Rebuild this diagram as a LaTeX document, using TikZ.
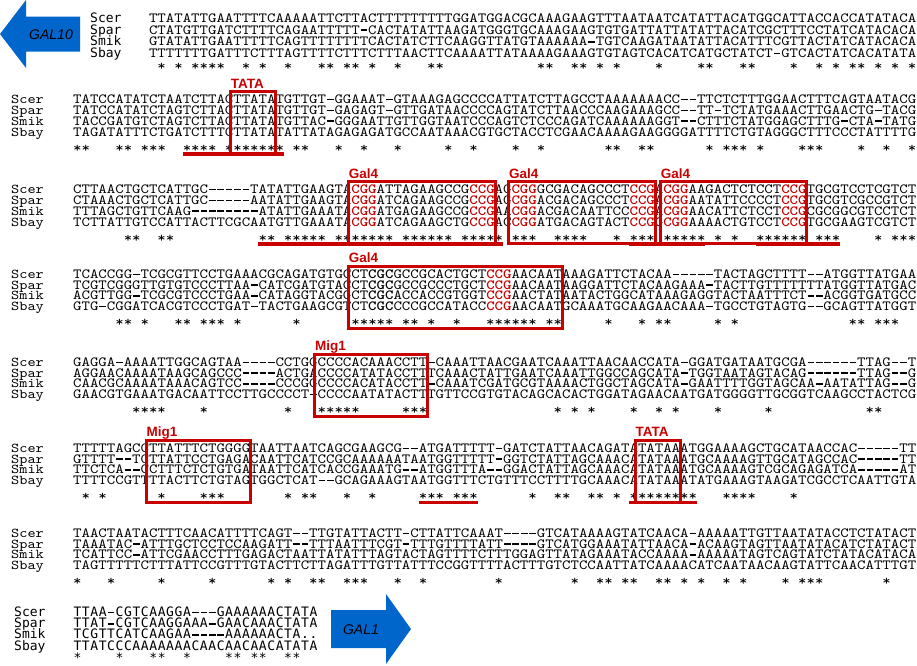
\documentclass[tikz,border=0pt]{standalone}
\usepackage{fontspec}
\newfontfamily\seqfont{lmmono10-regular.otf}[FakeStretch=1.15]
\newfontfamily\seqbold{lmmonolt10-bold.otf}[FakeStretch=1.15]
\newfontfamily\sansmono{DejaVu Sans Mono}
\newfontfamily\labfont{Liberation Sans}
\definecolor{gred}{RGB}{200,0,0}
\definecolor{arrowblue}{RGB}{0,102,204}

\ExplSyntaxOn
\dim_new:N \g_my_cw_dim
\dim_gset:Nn \g_my_cw_dim {8.43pt}
\str_new:N \l_my_a_str
\str_new:N \l_my_b_str
\str_new:N \l_my_c_str
\str_new:N \l_my_d_str
\cs_new_protected:Npn \my_box:n #1 { \hbox_to_wd:nn { \g_my_cw_dim } { \hss #1 \hss } }
\cs_new_protected:Npn \my_cell:n #1
  {
    \str_case:nnF {#1}
      {
        {a} { \my_box:n { \textcolor{gred}{\seqbold A} } }
        {c} { \my_box:n { \textcolor{gred}{\seqbold C} } }
        {g} { \my_box:n { \textcolor{gred}{\seqbold G} } }
        {t} { \my_box:n { \textcolor{gred}{\seqbold T} } }
        {K} { \my_box:n { \seqbold C } }
        {Q} { \my_box:n { \seqbold G } }
        {-} { \my_box:n { \rule[3.3pt]{6.6pt}{1.5pt} } }
      }
      { \my_box:n {#1} }
  }
\NewDocumentCommand \seqrow { m } { \str_map_inline:nn {#1} { \my_cell:n {##1} } }
\NewDocumentCommand \starrow { mmmm }
  {
    \str_set:Nx \l_my_a_str { \str_foldcase:n {#1} }
    \str_set:Nx \l_my_b_str { \str_foldcase:n {#2} }
    \str_set:Nx \l_my_c_str { \str_foldcase:n {#3} }
    \str_set:Nx \l_my_d_str { \str_foldcase:n {#4} }
    \int_step_inline:nn { \str_count:N \l_my_a_str }
      {
        \bool_if:nTF
          {
            \str_if_eq_p:ee { \str_item:Nn \l_my_a_str {##1} } { \str_item:Nn \l_my_b_str {##1} }
            && \str_if_eq_p:ee { \str_item:Nn \l_my_a_str {##1} } { \str_item:Nn \l_my_c_str {##1} }
            && \str_if_eq_p:ee { \str_item:Nn \l_my_a_str {##1} } { \str_item:Nn \l_my_d_str {##1} }
            && ! \str_if_eq_p:ee { \str_item:Nn \l_my_a_str {##1} } { - }
            && ! \str_if_eq_p:ee { \str_item:Nn \l_my_a_str {##1} } { . }
          }
          { \my_box:n {*} }
          { \my_box:n {} }
      }
  }
\ExplSyntaxOff

\newcommand\blkmid{\def\bnx{11}\def\bsx{73}\def\bdy{10.8}\def\bcap{4.3}\def\bstar{20.5}%
  \def\bnf{\seqfont\fontsize{13.5}{14}\selectfont}\def\bsf{\seqfont\fontsize{14}{14}\selectfont}}
\newcommand\blkone{\def\bnx{90}\def\bsx{148.87}\def\bdy{11.6}\def\bcap{4.3}\def\bstar{16.9}%
  \def\bnf{\sansmono\fontsize{13}{14}\selectfont}\def\bsf{\seqfont\fontsize{14}{14}\selectfont}}
\newcommand\blkeight{\def\bnx{14}\def\bsx{73}\def\bdy{11.1}\def\bcap{4.7}\def\bstar{17.4}%
  \def\bnf{\sansmono\fontsize{13}{14}\selectfont}\def\bsf{\sansmono\fontsize{13}{14}\selectfont}}

\newcommand\seqblock[6]{%
  \pgfmathsetmacro\ya{#2+\bcap}%
  \pgfmathsetmacro\yb{#2+\bdy+\bcap}%
  \pgfmathsetmacro\yc{#2+2*\bdy+\bcap}%
  \pgfmathsetmacro\yd{#2+3*\bdy+\bcap}%
  \pgfmathsetmacro\ye{#2+3*\bdy+\bstar}%
  \node[nm] (#1n1) at (\bnx,\ya) {Scer};
  \node[nm] (#1n2) at (\bnx,\yb) {Spar};
  \node[nm] (#1n3) at (\bnx,\yc) {Smik};
  \node[nm] (#1n4) at (\bnx,\yd) {Sbay};
  \node[sq] (#1s1) at (\bsx,\ya) {\seqrow{#3}};
  \node[sq] (#1s2) at (\bsx,\yb) {\seqrow{#4}};
  \node[sq] (#1s3) at (\bsx,\yc) {\seqrow{#5}};
  \node[sq] (#1s4) at (\bsx,\yd) {\seqrow{#6}};
  \node[sq] (#1st) at (\bsx,\ye) {\starrow{#3}{#4}{#5}{#6}};
}
\newcommand\gbox[5]{%
  \pgfmathsetmacro\bxl{73+(#2-1)*8.43-2.5}%
  \pgfmathsetmacro\bxr{73+#3*8.43+0.5}%
  \draw[boxst] (\bxl,#1-7.5) rectangle (\bxr,#1+54.5);
  \node[lab] (#5) at (\bxl,#1-11.2) {#4};
}
\newcommand\uline[3]{%
  \draw[ulst] ({73+(#2-1)*8.43},#1+54.5) -- ({73+#3*8.43},#1+54.5);
}

\tikzset{
  nm/.style={anchor=base west, inner sep=0pt, font=\bnf},
  sq/.style={anchor=base west, inner sep=0pt, font=\bsf},
  lab/.style={anchor=base west, inner sep=0pt, text=gred, font=\labfont\bfseries\fontsize{13.5}{14}\selectfont},
  boxst/.style={draw=gred, line width=3pt},
  ulst/.style={draw=gred, line width=3.5pt},
  galtext/.style={inner sep=0pt, font=\labfont\itshape\fontsize{14}{14}\selectfont, text=black},
}

\begin{document}
\begin{tikzpicture}[x=1pt,y=-1pt]
\useasboundingbox (0,0) rectangle (917,665);
\fill[white] (0,0) rectangle (917,665);

% GAL10 arrow
\fill[arrowblue] (0,34) -- (26,0) -- (26,16.5) -- (80,16.5) -- (80,51.5) -- (26,51.5) -- (26,68) -- cycle;
\node[galtext] (gal10) at (51,35) {GAL10};

% GAL1 arrow
\fill[arrowblue] (331,610) -- (386,610) -- (386,594) -- (411,629) -- (386,664) -- (386,648) -- (331,648) -- cycle;
\node[galtext] (gal1) at (361,630) {GAL1};

% block 1
\blkone
\seqblock{bA}{18.3}
{TTATATTGAATTTTCAAAAATTCTTACTTTTTTTTTGGATGGACGCAAAGAAGTTTAATAATCATATTACATGGCATTACCACCATATACA}
{CTATGTTGATCTTTTCAGAATTTTT-CACTATATTAAGATGGGTGCAAAGAAGTGTGATTATTATATTACATCGCTTTCCTATCATACACA}
{GTATATTGAATTTTTCAGTTTTTTTTCACTATCTTCAAGGTTATGTAAAAAA-TGTCAAGATAATATTACATTTCGTTACTATCATACACA}
{TTTTTTTGATTTCTTTAGTTTTCTTTCTTTAACTTCAAAATTATAAAAGAAAGTGTAGTCACATCATGCTATCT-GTCACTATCACATATA}

% block 2
\blkmid
\seqblock{bB}{99.3}
{TATCCATATCTAATCTTACTTATATGTTGT-GGAAAT-GTAAAGAGCCCCATTATCTTAGCCTAAAAAAACC--TTCTCTTTGGAACTTTCAGTAATACG}
{TATCCATATCTAGTCTTACTTATATGTTGT-GAGAGT-GTTGATAACCCCAGTATCTTAACCCAAGAAAGCC--TT-TCTATGAAACTTGAACTG-TACG}
{TACCGATGTCTAGTCTTACTTATATGTTAC-GGGAATTGTTGGTAATCCCAGTCTCCCAGATCAAAAAAGGT--CTTTCTATGGAGCTTTG-CTA-TATG}
{TAGATATTTCTGATCTTTCTTATATATTATAGAGAGATGCCAATAAACGTGCTACCTCGAACAAAAGAAGGGGATTTTCTGTAGGGCTTTCCCTATTTTG}
\uline{99.3}{14}{25}
\gbox{99.3}{20}{24}{TATA}{lTATAa}

% block 3
\seqblock{bC}{189.3}
{CTTAACTGCTCATTGC-----TATATTGAAGTAcggATTAGAAGCCGccgAGcggGCGACAGCCCTccgAcggAAGACTCTCCTccgTGCGTCCTCGTCT}
{CTAAACTGCTCATTGC-----AATATTGAAGTAcggATCAGAAGCCGccgAGcggACGACAGCCCTccgAcggAATATTCCCCTccgTGCGTCGCCGTCT}
{TTTAGCTGTTCAAG--------ATATTGAAATAcggATGAGAAGCCGccgAAcggACGACAATTCCccgAcggAACATTCTCCTccgCGCGGCGTCCTCT}
{TCTTATTGTCCATTACTTCGCAATGTTGAAATAcggATCAGAAGCTGccgACcggATGACAGTACTccgGcggAAAACTGTCCTccgTGCGAAGTCGTCT}
\uline{189.3}{23}{51}
\uline{189.3}{67}{75}
\uline{189.3}{82}{91}
\gbox{189.3}{34}{50}{Gal4}{lGalA}
\gbox{189.3}{53}{69}{Gal4}{lGalB}
\gbox{189.3}{71}{87}{Gal4}{lGalC}

% block 4
\seqblock{bD}{274}
{TCACCGG-TCGCGTTCCTGAAACGCAGATGTGCCTKQKGCCGCACTGCTccgAACAATAAAGATTCTACAA-----TACTAGCTTTT--ATGGTTATGAA}
{TCGTCGGGTTGTGTCCCTTAA-CATCGATGTACCTKQKGCCGCCCTGCTccgAACAATAAGGATTCTACAAGAAA-TACTTGTTTTTTTATGGTTATGAC}
{ACGTTGG-TCGCGTCCCTGAA-CATAGGTACGGCTKQKACCACCGTGGTccgAACTATAATACTGGCATAAAGAGGTACTAATTTCT--ACGGTGATGCC}
{GTG-CGGATCACGTCCCTGAT-TACTGAAGCGTCTKQKCCCGCCATACCccgAACAATGCAAATGCAAGAACAAA-TGCCTGTAGTG--GCAGTTATGGT}
\gbox{274}{34}{58}{Gal4}{lGalD}

% block 5
\seqblock{bE}{362}
{GAGGA-AAAATTGGCAGTAA----CCTGGCCCCACAAACCTT-CAAATTAACGAATCAAATTAACAACCATA-GGATGATAATGCGA------TTAG--T}
{AGGAACAAAATAAGCAGCCC----ACTGACCCCATATACCTTTCAAACTATTGAATCAAATTGGCCAGCATA-TGGTAATAGTACAG------TTAG--G}
{CAACGCAAAATAAACAGTCC----CCCGGCCCCACATACCTT-CAAATCGATGCGTAAAACTGGCTAGCATA-GAATTTTGGTAGCAA-AATATTAG--G}
{GAACGTGAAATGACAATTCCTTGCCCCT-CCCCAATATACTTTGTTCCGTGTACAGCACACTGGATAGAACAATGATGGGGTTGCGGTCAAGCCTACTCG}
\gbox{362}{30}{42}{Mig1}{lMigA}

% block 6
\seqblock{bF}{448}
{TTTTTAGCCTTATTTCTGGGGTAATTAATCAGCGAAGCG--ATGATTTTT-GATCTATTAACAGATATATAAATGGAAAAGCTGCATAACCAC-----TT}
{GTTTT--TCTTATTCCTGAGACAATTCATCCGCAAAAAATAATGGTTTTT-GGTCTATTAGCAAACATATAAATGCAAAAGTTGCATAGCCAC-----TT}
{TTCTCA--CCTTTCTCTGTGATAATTCATCACCGAAATG--ATGGTTTA--GGACTATTAGCAAACATATAAATGCAAAAGTCGCAGAGATCA-----AT}
{TTTTCCGTTTTACTTCTGTAGTGGCTCAT--GCAGAAAGTAATGGTTTCTGTTTCCTTTTGCAAACATATAAATATGAAAGTAAGATCGCCTCAATTGTA}
\uline{448}{42}{48}
\uline{448}{67}{74}
\gbox{448}{10}{21}{Mig1}{lMigB}
\gbox{448}{68}{72}{TATA}{lTATAb}

% block 7
\seqblock{bG}{533}
{TAACTAATACTTTCAACATTTTCAGT--TTGTATTACTT-CTTATTCAAAT----GTCATAAAAGTATCAACA-AAAAATTGTTAATATACCTCTATACT}
{TAAATAC-ATTTGCTCCTCCAAGATT--TTTAATTTCGT-TTTGTTTTATT----GTCATGGAAATATTAACA-ACAAGTAGTTAATATACATCTATACT}
{TCATTCC-ATTCGAACCTTTGAGACTAATTATATTTAGTACTAGTTTTCTTTGGAGTTATAGAAATACCAAAA-AAAAATAGTCAGTATCTATACATACA}
{TAGTTTTTCTTTATTCCGTTTGTACTTCTTAGATTTGTTATTTCCGGTTTTACTTTGTCTCCAATTATCAAAACATCAATAACAAGTATTCAACATTTGT}

% block 8
\blkeight
\seqblock{bH}{612}
{TTAA-CGTCAAGGA---GAAAAAACTATA}
{TTAT-CGTCAAGGAAA-GAACAAACTATA}
{TCGTTCATCAAGAA----AAAAAACTA..}
{TTATCCCAAAAAAACAACAACAACATATA}
\end{tikzpicture}
\end{document}
